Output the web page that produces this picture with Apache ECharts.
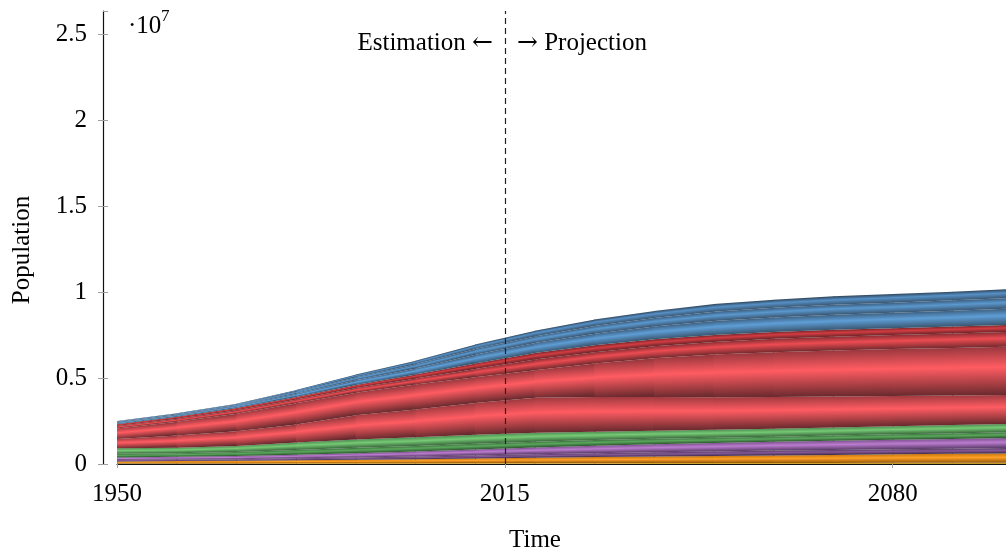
<!DOCTYPE html>
<html><head><meta charset="utf-8">
<script src="https://cdn.jsdelivr.net/npm/echarts@6/dist/echarts.min.js"></script>
<style>html,body{margin:0;padding:0;background:#fff}#c{width:1006px;height:557px}</style>
</head><body><div id="c"></div>
<script>
// Years (x) and population bands in millions, bottom to top
const years = [1950,1960,1970,1980,1990,2000,2010,2020,2030,2040,2050,2060,2070,2080,2090,2100];
const xTickLabels = [1950, 2015, 2080];
const yTickLabels = ['0','0.5','1','1.5','2','2.5'];

const orangeA = [0.03,0.03,0.03,0.04,0.04,0.04,0.05,0.05,0.05,0.06,0.06,0.06,0.06,0.07,0.07,0.07];
const orangeB = [0.12,0.14,0.16,0.18,0.21,0.24,0.27,0.31,0.35,0.37,0.40,0.44,0.47,0.49,0.52,0.55];
const purpleA = [0.08,0.09,0.09,0.11,0.13,0.15,0.18,0.21,0.23,0.25,0.27,0.28,0.29,0.30,0.30,0.31];
const purpleB = [0.15,0.16,0.18,0.21,0.24,0.29,0.34,0.39,0.43,0.47,0.49,0.51,0.53,0.55,0.57,0.59];
const greenA  = [0.21,0.21,0.24,0.28,0.32,0.33,0.34,0.34,0.33,0.32,0.31,0.30,0.31,0.32,0.32,0.33];
const greenB  = [0.32,0.32,0.35,0.43,0.49,0.50,0.52,0.52,0.49,0.47,0.46,0.46,0.46,0.47,0.49,0.49];
const redA    = [0.54,0.70,0.85,1.05,1.40,1.62,1.85,2.03,2.02,1.96,1.89,1.85,1.81,1.76,1.72,1.68];
const redB    = [0.61,0.80,1.02,1.23,1.32,1.45,1.50,1.60,1.95,2.25,2.48,2.60,2.67,2.72,2.76,2.80];
const redC    = [0.15,0.18,0.20,0.22,0.27,0.35,0.48,0.62,0.65,0.70,0.74,0.78,0.80,0.82,0.84,0.86];
const redD    = [0.10,0.12,0.14,0.15,0.18,0.23,0.32,0.38,0.40,0.40,0.40,0.40,0.40,0.40,0.41,0.42];
const blueA   = [0.09,0.09,0.11,0.18,0.27,0.36,0.50,0.58,0.68,0.74,0.81,0.84,0.88,0.89,0.91,0.94];
const blueB   = [0.06,0.06,0.07,0.12,0.18,0.24,0.33,0.39,0.45,0.50,0.54,0.56,0.58,0.59,0.61,0.62];
const blueC   = [0.04,0.05,0.06,0.10,0.15,0.20,0.27,0.33,0.37,0.41,0.45,0.47,0.49,0.50,0.50,0.52];

// [top edge, bright, bottom edge]
const bands = [
  {v: orangeA, c: ['#b88a1a', '#e2b432', '#7a5a0c']},
  {v: orangeB, c: ['#c87812', '#ffa024', '#94560a']},
  {v: purpleA, c: ['#5a3e64', '#86589a', '#3e2c46']},
  {v: purpleB, c: ['#7e5290', '#bb7ccf', '#5a3a68']},
  {v: greenA,  c: ['#3e7440', '#5aa85c', '#2e5430']},
  {v: greenB,  c: ['#4e8e50', '#76ca76', '#3a6a3c']},
  {v: redA,    c: ['#a03a40', '#ff5c62', '#682a2e']},
  {v: redB,    c: ['#9a383e', '#ff5c62', '#6a2a2e']},
  {v: redC,    c: ['#8a2e34', '#ec4c52', '#742a2e']},
  {v: redD,    c: ['#7a282c', '#d23c42', '#6c2428']},
  {v: blueA,   c: ['#3e6284', '#5e9ed6', '#3a5670']},
  {v: blueB,   c: ['#3c5e80', '#5a98ce', '#3a5672']},
  {v: blueC,   c: ['#30465c', '#5690c6', '#3a5874']}
];

const FONT = '"Liberation Serif", "Times New Roman", serif';
const FS = 25;
const chart = echarts.init(document.getElementById('c'), null, {renderer: 'canvas'});

let base = years.map(() => 0);
const series = [];
bands.forEach((b, k) => {
  const lo = base.slice();
  const hi = base.map((x, i) => x + b.v[i]);
  base = hi;
  const segs = [];
  for (let i = 0; i < years.length - 1; i++) {
    segs.push([years[i], years[i + 1], lo[i], hi[i], lo[i + 1], hi[i + 1]]);
  }
  series.push({
    type: 'custom',
    name: 'band' + k,
    coordinateSystem: 'cartesian2d',
    silent: true,
    clip: true,
    encode: {x: [0, 1], y: [2, 3, 4, 5]},
    data: segs,
    renderItem: function (params, api) {
      const a = api.coord([api.value(0), api.value(3)]);
      const bb = api.coord([api.value(1), api.value(5)]);
      const c = api.coord([api.value(1), api.value(4)]);
      const d = api.coord([api.value(0), api.value(2)]);
      const ext = 0.8;
      const dx = bb[0] - a[0];
      const s = ((bb[1] - a[1]) + (c[1] - d[1])) / 2 / dx;
      const mx = (a[0] + bb[0]) / 2;
      const ty = (a[1] + bb[1]) / 2;
      const by = (d[1] + c[1]) / 2;
      const h = by - ty;
      const n2 = 1 + s * s;
      const x2 = mx - s * h / n2, y2 = ty + h / n2;
      const grad = new echarts.graphic.LinearGradient(mx, ty, x2, y2, [
        {offset: 0, color: b.c[0]},
        {offset: 0.42, color: b.c[1]},
        {offset: 1, color: b.c[2]}
      ], true);
      return {
        type: 'polygon',
        shape: {points: [[a[0], a[1]], [bb[0] + ext, bb[1]], [c[0] + ext, c[1]], [d[0], d[1]]]},
        style: {fill: grad, stroke: null}
      };
    },
    z: 2
  });
});

series.push({
  type: 'line',
  data: [],
  silent: true,
  z: 5,
  markLine: {
    silent: true,
    symbol: ['none', 'none'],
    label: {show: false},
    lineStyle: {color: '#222', width: 1.2, type: [6, 4]},
    data: [{xAxis: 2015}]
  }
});

const xBase = {
  type: 'value', min: 1950, max: 2100, interval: 65,
  position: 'bottom', offset: 13,
  splitLine: {show: false}
};
const yBase = {
  type: 'value', min: 0, max: 26.34, interval: 5,
  position: 'left', offset: 14,
  splitLine: {show: false}
};

chart.setOption({
  animation: false,
  backgroundColor: '#fff',
  grid: {left: 117, top: 11, width: 895, height: 453, containLabel: false, outerBoundsMode: 'none'},
  xAxis: [
    Object.assign({}, xBase, {
      axisLine: {show: true, lineStyle: {color: '#111', width: 1.2}},
      axisTick: {show: true, inside: false, length: 4, lineStyle: {color: '#a0a0a0', width: 1}},
      axisLabel: {show: true, color: '#000', fontSize: FS, fontFamily: FONT, margin: 5,
        formatter: v => xTickLabels.indexOf(v) >= 0 ? String(v) : ''}
    }),
    Object.assign({}, xBase, {
      axisLine: {show: false},
      axisTick: {show: true, inside: true, length: 4, lineStyle: {color: '#a0a0a0', width: 1}},
      axisLabel: {show: false}
    })
  ],
  yAxis: [
    Object.assign({}, yBase, {
      axisLine: {show: true, lineStyle: {color: '#111', width: 1.2}},
      axisTick: {show: true, inside: false, length: 5, lineStyle: {color: '#a0a0a0', width: 1}},
      axisLabel: {show: true, color: '#000', fontSize: FS, fontFamily: FONT, margin: 16,
        showMaxLabel: false,
        formatter: v => { const i = Math.round(v / 5); return (Math.abs(v - i * 5) < 1e-6 && yTickLabels[i] !== undefined) ? yTickLabels[i] : ''; }}
    }),
    Object.assign({}, yBase, {
      axisLine: {show: false},
      axisTick: {show: true, inside: true, length: 5, lineStyle: {color: '#a0a0a0', width: 1}},
      axisLabel: {show: false}
    })
  ],
  series: series,
  graphic: [
    {type: 'text', left: 128, top: 14, style: {text: '·10', font: FS + 'px ' + FONT, fill: '#000'}},
    {type: 'text', left: 161, top: 8, style: {text: '7', font: '17px ' + FONT, fill: '#000'}},
    {type: 'text', x: 22, y: 250, rotation: Math.PI / 2,
      style: {text: 'Population', font: FS + 'px ' + FONT, fill: '#000', align: 'center', verticalAlign: 'middle'}},
    {type: 'text', x: 535, y: 540,
      style: {text: 'Time', font: FS + 'px ' + FONT, fill: '#000', align: 'center', verticalAlign: 'middle'}},
    {type: 'text', x: 493, y: 43,
      style: {text: 'Estimation {a|←}', font: FS + 'px ' + FONT, fill: '#000', align: 'right', verticalAlign: 'middle',
        rich: {a: {fontFamily: '"DejaVu Serif"', fontSize: FS, fill: '#000'}}}},
    {type: 'text', x: 517, y: 43,
      style: {text: '{a|→} Projection', font: FS + 'px ' + FONT, fill: '#000', align: 'left', verticalAlign: 'middle',
        rich: {a: {fontFamily: '"DejaVu Serif"', fontSize: FS, fill: '#000'}}}}
  ]
});
</script></body></html>
